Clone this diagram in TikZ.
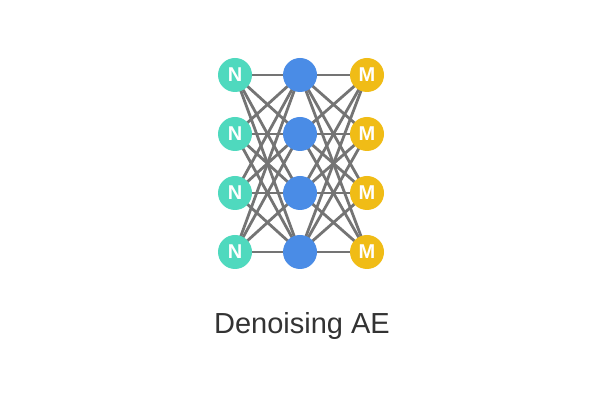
\documentclass[tikz,border=0pt]{standalone}
\usepackage{fontspec}
\setmainfont{Liberation Sans}
\usetikzlibrary{backgrounds}
\definecolor{tealn}{HTML}{4FD9BE}
\definecolor{bluen}{HTML}{4A8CE6}
\definecolor{yell}{HTML}{F0BC16}
\definecolor{edgegray}{HTML}{747474}
\definecolor{txt}{HTML}{333333}
\begin{document}
\begin{tikzpicture}[x=1pt,y=1pt,
  neuron/.style={circle,minimum size=34pt,inner sep=0pt,text=white,font=\fontsize{20}{20}\selectfont\bfseries},
  inn/.style={neuron,fill=tealn},
  hid/.style={neuron,fill=bluen},
  outn/.style={neuron,fill=yell},
  conn/.style={draw=edgegray,line width=2.8pt}]
\useasboundingbox (0,0) rectangle (600,401);
\foreach \i/\y in {1/326,2/267,3/208,4/149}{
  \node[inn] (a\i) at (235,\y) {N};
  \node[hid] (b\i) at (300,\y) {};
  \node[outn] (c\i) at (367,\y) {M};
}
\node[text=txt,font=\fontsize{29}{29}\selectfont] (title) at (302,75) {Denoising AE};
\begin{scope}[on background layer]
  \fill[white] (0,0) rectangle (600,401);
  \foreach \i in {1,...,4}{
    \foreach \j in {1,...,4}{
      \draw[conn] (a\i.center) -- (b\j.center);
      \draw[conn] (b\i.center) -- (c\j.center);
    }
  }
\end{scope}
\end{tikzpicture}
\end{document}
